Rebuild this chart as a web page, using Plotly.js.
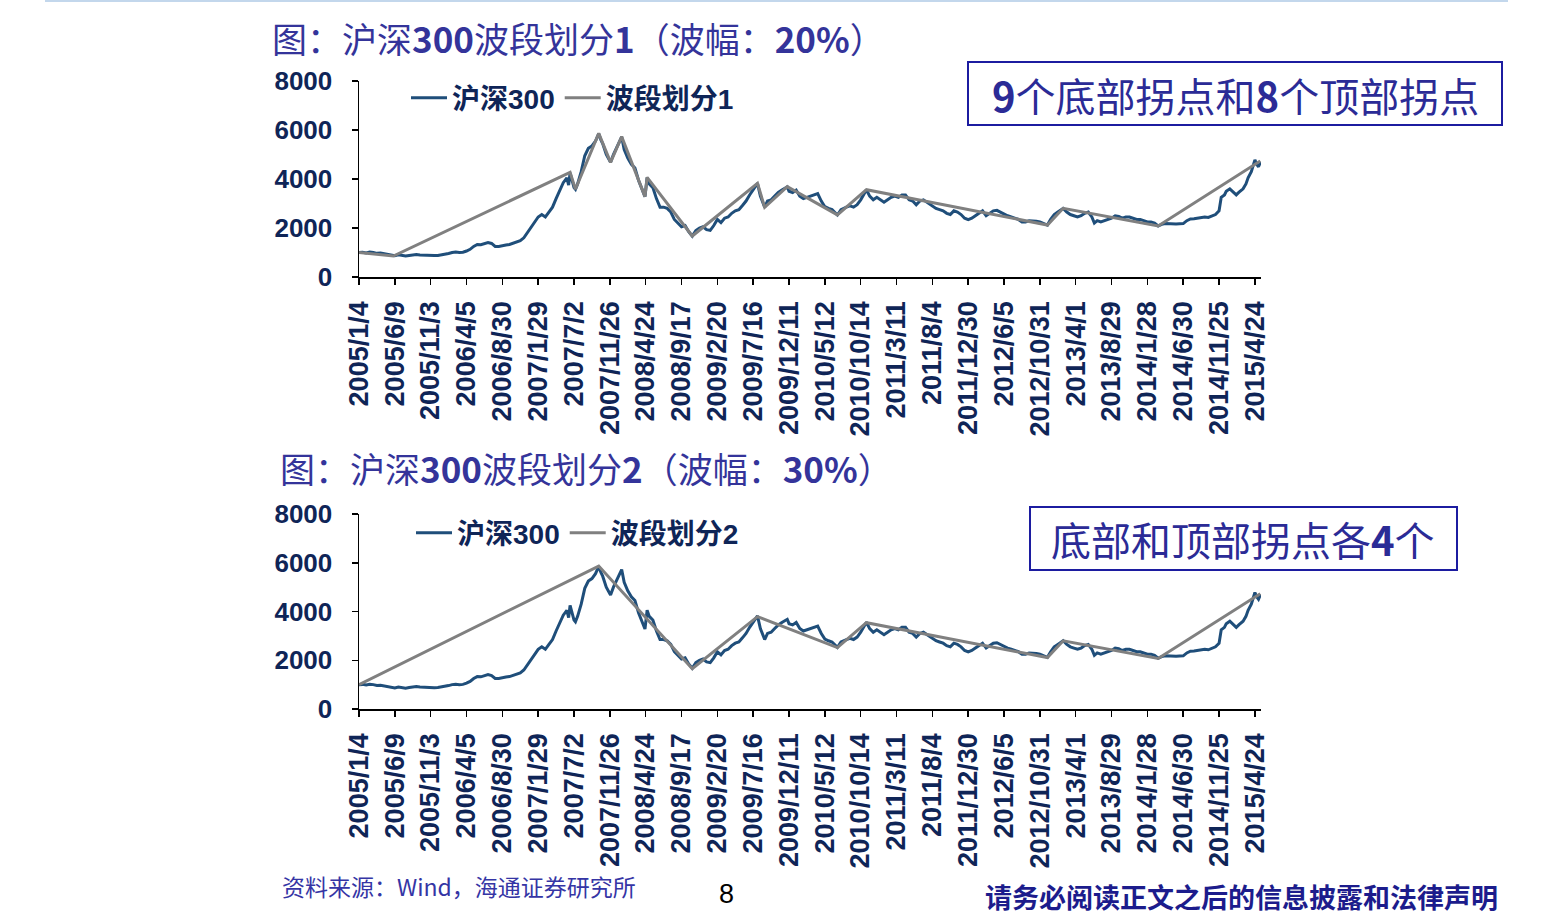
<!DOCTYPE html>
<html>
<head>
<meta charset="utf-8">
<script src="https://cdn.plot.ly/plotly-3.0.1.min.js"></script>
<style>
  html, body { margin: 0; padding: 0; background: #fff; }
  #chart { width: 1560px; height: 920px; }
</style>
</head>
<body>
<div id="chart"></div>
<script>
// ── Data ──────────────────────────────────────────────────────────────────────

// x is the trading-day index since 2005/1/4; a tick label every 100 days
const tickLabels = [
  '2005/1/4', '2005/6/9', '2005/11/3', '2006/4/5', '2006/8/30', '2007/1/29',
  '2007/7/2', '2007/11/26', '2008/4/24', '2008/9/17', '2009/2/20', '2009/7/16',
  '2009/12/11', '2010/5/12', '2010/10/14', '2011/3/11', '2011/8/4', '2011/12/30',
  '2012/6/5', '2012/10/31', '2013/4/1', '2013/8/29', '2014/1/28', '2014/6/30',
  '2014/11/25', '2015/4/24',
];

const hs300Day = [
  0, 10, 20, 30, 40, 50, 60, 70, 80, 90, 96, 100, 110, 120, 130, 140, 150, 160, 170, 180,
  190, 200, 210, 220, 230, 240, 250, 260, 270, 280, 290, 300, 310, 320, 330, 340, 350, 360,
  370, 380, 390, 400, 410, 420, 430, 440, 450, 460, 470, 480, 490, 500, 510, 520, 530, 540,
  550, 560, 570, 580, 585, 589, 595, 600, 604, 610, 620, 630, 640, 650, 660, 669, 675, 680,
  690, 702, 710, 720, 733, 740, 750, 760, 770, 780, 790, 798, 804, 810, 820, 830, 840, 850,
  860, 870, 880, 890, 900, 910, 920, 930, 940, 950, 960, 970, 980, 990, 1000, 1010, 1020,
  1030, 1040, 1050, 1060, 1070, 1080, 1090, 1100, 1112, 1120, 1132, 1140, 1150, 1160, 1170,
  1180, 1195, 1200, 1210, 1220, 1230, 1240, 1250, 1260, 1270, 1280, 1290, 1300, 1310, 1320,
  1335, 1345, 1360, 1370, 1380, 1390, 1400, 1410, 1416, 1425, 1435, 1445, 1455, 1465, 1475,
  1485, 1495, 1505, 1515, 1525, 1535, 1545, 1555, 1565, 1575, 1585, 1600, 1610, 1620, 1630,
  1640, 1650, 1660, 1670, 1680, 1690, 1700, 1710, 1720, 1730, 1740, 1750, 1760, 1770, 1780,
  1790, 1800, 1810, 1820, 1830, 1840, 1850, 1860, 1870, 1880, 1890, 1900, 1910, 1921, 1930,
  1940, 1950, 1965, 1975, 1985, 1995, 2005, 2015, 2025, 2035, 2045, 2052, 2060, 2070, 2080,
  2090, 2100, 2110, 2120, 2130, 2140, 2150, 2160, 2170, 2180, 2190, 2200, 2210, 2220, 2230,
  2240, 2250, 2260, 2270, 2280, 2290, 2300, 2310, 2320, 2330, 2340, 2350, 2360, 2370, 2380,
  2390, 2400, 2406, 2415, 2420, 2430, 2440, 2448, 2455, 2467, 2475, 2481, 2490, 2500, 2505,
  2510, 2516,
];
const hs300Val = [
  1000, 1010, 985, 1015, 1000, 965, 975, 940, 905, 870, 850, 865, 905, 885, 855, 880, 905, 920, 900, 890,
  870, 860, 875, 880, 900, 925, 960, 1000, 1020, 1000, 1010, 1060, 1130, 1250, 1330, 1320, 1380, 1410,
  1370, 1250, 1250, 1290, 1310, 1330, 1370, 1420, 1480, 1600, 1800, 2000, 2250, 2450, 2550, 2450, 2650, 2850,
  3200, 3550, 3850, 4050, 3750, 4250, 3950, 3650, 3580, 3800, 4300, 4950, 5250, 5350, 5550, 5850, 5600, 5450,
  5000, 4680, 5000, 5300, 5720, 5200, 4850, 4600, 4450, 3950, 3550, 3280, 4050, 3800, 3650, 3200, 2850, 2850,
  2800, 2650, 2350, 2200, 2050, 2100, 1850, 1670, 1900, 2000, 2050, 1930, 1900, 2100, 2350, 2220, 2400,
  2450, 2600, 2700, 2750, 2920, 3100, 3350, 3550, 3820, 3300, 2850, 3100, 3150, 3300, 3450,
  3550, 3680, 3500, 3450, 3550, 3300, 3200, 3250, 3300, 3350, 3400, 3100, 2870, 2800, 2750,
  2530, 2750, 2850, 2900, 2850, 2950, 3150, 3400, 3560, 3300, 3150, 3250, 3150, 3050, 3150,
  3250, 3300, 3250, 3350, 3350, 3150, 3100, 2950, 3100, 3150, 3050, 2900, 2800, 2750, 2700,
  2600, 2550, 2700, 2650, 2550, 2400, 2340, 2400, 2500, 2600, 2700, 2500, 2600, 2700, 2720,
  2650, 2550, 2500, 2450, 2400, 2350, 2250, 2250, 2300, 2300, 2280, 2250, 2200, 2120, 2350,
  2550, 2650, 2800, 2650, 2550, 2500, 2450, 2500, 2600, 2650, 2450, 2200, 2300, 2250, 2300,
  2350, 2400, 2500, 2470, 2400, 2450, 2450, 2400, 2350, 2350, 2300, 2250, 2250, 2200, 2085,
  2150, 2180, 2170, 2150, 2160, 2170, 2180, 2300, 2370, 2380, 2400, 2420, 2450, 2430, 2480,
  2550, 2700, 3250, 3350, 3500, 3600, 3450, 3350, 3450, 3600, 3800, 4050, 4300, 4780, 4600,
  4500, 4700,
];

// wave split 1 (20% swing): 9 bottoms, 8 tops
const wave1Day = [0, 96, 589, 604, 669, 702, 733, 798, 804, 930, 1112, 1132, 1195, 1335, 1416, 1921, 1965, 2230, 2515];
const wave1Val = [1000, 857, 4270, 3580, 5865, 4680, 5728, 3280, 4070, 1673, 3824, 2844, 3687, 2535, 3565, 2122, 2803, 2082, 4735];

// wave split 2 (30% swing): 4 bottoms, 4 tops
const wave2Day = [0, 669, 930, 1112, 1335, 1416, 1921, 1965, 2230, 2515];
const wave2Val = [1000, 5865, 1650, 3790, 2520, 3540, 2110, 2800, 2075, 4730];

// ── Styling ───────────────────────────────────────────────────────────────────

const W = 1560, H = 920;
const px = x => x / W;
const py = y => 1 - y / H;

const NAVY  = '#0f2557';
const BLUE  = '#1f4e7a';
const GREY  = '#808080';
const INK   = '#34349a';
const FONT  = 'Liberation Sans, Arial, Noto Sans CJK SC, sans-serif';
const CJK   = 'Noto Sans CJK SC, Liberation Sans, sans-serif';

const tickVals = tickLabels.map((_, i) => i * 100);

const xAxisBase = {
  range: [0, 2517],
  tickmode: 'array', tickvals: tickVals, ticktext: tickLabels,
  tickangle: -90, ticks: 'outside', ticklen: 6, tickwidth: 1.5, tickcolor: '#000',
  showline: true, linecolor: '#000', linewidth: 1.5,
  showgrid: false, zeroline: false, ticklabelstandoff: 6,
  tickfont: { family: FONT, size: 27, color: NAVY, weight: 'bold' },
};
const yAxisBase = {
  range: [0, 8000], dtick: 2000, tick0: 0,
  ticks: 'outside', ticklen: 6, tickwidth: 1.5, tickcolor: '#000',
  showline: true, linecolor: '#000', linewidth: 1.5,
  showgrid: false, zeroline: false, ticklabelstandoff: 14,
  tickfont: { family: FONT, size: 26, color: NAVY, weight: 'bold' },
};
const legendBase = {
  orientation: 'h', xanchor: 'left', yanchor: 'middle',
  bgcolor: 'rgba(0,0,0,0)', borderwidth: 0, itemwidth: 36, tracegroupgap: 0,
  font: { family: FONT, size: 28, color: NAVY, weight: 'bold' },
};

// ── Traces ────────────────────────────────────────────────────────────────────

const line = (x, y, name, color, xa, ya, legend) => ({
  x, y, name, type: 'scatter', mode: 'lines', xaxis: xa, yaxis: ya, legend,
  line: { color, width: 3 }, hoverinfo: 'skip',
});

const traces = [
  line(hs300Day, hs300Val, '沪深300', BLUE, 'x', 'y', 'legend'),
  line(wave1Day, wave1Val, '波段划分1', GREY, 'x', 'y', 'legend'),
  line(hs300Day, hs300Val, '沪深300', BLUE, 'x2', 'y2', 'legend2'),
  line(wave2Day, wave2Val, '波段划分2', GREY, 'x2', 'y2', 'legend2'),
];

// ── Text & boxes ──────────────────────────────────────────────────────────────

const text = (x, y, t, size, color, opts = {}) => ({
  xref: 'paper', yref: 'paper', x: px(x), y: py(y), text: t, showarrow: false,
  xanchor: 'left', yanchor: 'middle',
  font: { family: CJK, size, color }, ...opts,
});

const annotations = [
  text(270, 38, '图：沪深<b>300</b>波段划分<b>1</b>（波幅：<b>20%</b>）', 35, INK),
  text(278, 467, '图：沪深<b>300</b>波段划分<b>2</b>（波幅：<b>30%</b>）', 35, INK),
  text(1235, 95, '<b>9</b>个底部拐点和<b>8</b>个顶部拐点', 40, '#2b2b96', { xanchor: 'center' }),
  text(1243, 539, '底部和顶部拐点各<b>4</b>个', 40, '#2b2b96', { xanchor: 'center' }),
  text(280, 886, '资料来源：Wind，海通证券研究所', 23, '#3535a5'),
  text(726, 894, '8', 27, '#000', { xanchor: 'center', font: { family: FONT, size: 27, color: '#000' } }),
  text(1500, 896, '<b>请务必阅读正文之后的信息披露和法律声明</b>', 27, '#1c1c8c', { xanchor: 'right' }),
];

const rect = (x0, y0, x1, y1) => ({
  type: 'rect', xref: 'paper', yref: 'paper',
  x0: px(x0), x1: px(x1), y0: py(y1), y1: py(y0),
  line: { color: '#1c1ca0', width: 2 }, fillcolor: 'rgba(0,0,0,0)',
});

const shapes = [
  rect(968, 62, 1502, 125),
  rect(1030, 507, 1457, 570),
  { type: 'line', xref: 'paper', yref: 'paper', x0: px(45), x1: px(1508), y0: py(1), y1: py(1),
    line: { color: '#c3d7ec', width: 2 } },
];

// ── Layout ────────────────────────────────────────────────────────────────────

const layout = {
  width: W, height: H,
  margin: { l: 0, r: 0, t: 0, b: 0 },
  paper_bgcolor: '#fff', plot_bgcolor: '#fff',
  showlegend: true,
  xaxis:  { ...xAxisBase, domain: [px(359), px(1261)], anchor: 'y' },
  yaxis:  { ...yAxisBase, domain: [py(277), py(81)], anchor: 'x' },
  xaxis2: { ...xAxisBase, domain: [px(359), px(1261)], anchor: 'y2' },
  yaxis2: { ...yAxisBase, domain: [py(709), py(514)], anchor: 'x2' },
  legend:  { ...legendBase, x: px(406), y: py(98) },
  legend2: { ...legendBase, x: px(411), y: py(533) },
  annotations, shapes,
};

Plotly.newPlot('chart', traces, layout, { displayModeBar: false, staticPlot: true });
</script>
</body>
</html>
